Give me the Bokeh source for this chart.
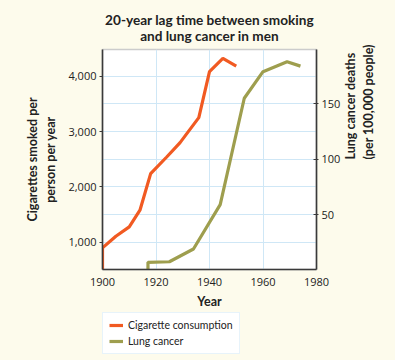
import math
from bokeh.plotting import figure
from bokeh.layouts import column
from bokeh.core.properties import value
from bokeh.models import (LinearAxis, Range1d, FixedTicker, NumeralTickFormatter,
                          Legend, LegendItem)
from bokeh.embed import file_html
from bokeh.resources import INLINE

# ---- data ----
cig_years = [1900, 1900, 1905, 1910, 1914, 1918, 1924, 1929, 1936, 1940, 1945, 1950]
cig_values = [510, 900, 1110, 1280, 1580, 2240, 2540, 2800, 3250, 4080, 4320, 4180]
lung_years = [1917, 1917, 1925, 1934, 1944, 1953, 1960, 1969, 1974]
lung_values = [0.5, 7, 7.5, 19, 59, 155, 179, 188, 184]
x_ticks = [1900, 1920, 1940, 1960, 1980]
left_ticks = [1000, 2000, 3000, 4000]
right_ticks = [50, 100, 150]
title_lines = ["20-year lag time between smoking", "and lung cancer in men"]
series_names = ["Cigarette consumption", "Lung cancer"]
series_colors = ["#F15A22", "#9E9E4E"]

FONT = "Open Sans"
BFONT = "Lato"
BG = "#FDFBEC"
GRID = "#CFE7F6"
AX = "#3a3a3a"
TXT = "#222222"

# ---- header with the two-line title ----
hd = figure(width=395, height=44, title=None, output_backend="svg", toolbar_location=None,
            x_axis_type=None, y_axis_type=None, x_range=Range1d(0, 1), y_range=Range1d(44, 0),
            min_border=0, background_fill_color=BG, border_fill_color=BG,
            outline_line_color=None)
hd.text(x=[0.5, 0.5], y=[19, 35], text=title_lines, text_align="center",
        text_baseline="middle", text_font=value(BFONT), text_font_size="13.6px",
        text_font_style="bold", text_color=TXT)

# ---- main chart ----
p = figure(width=395, height=268, title=None, output_backend="svg", toolbar_location=None,
           x_range=Range1d(1900, 1980), y_range=Range1d(510, 4480),
           min_border_left=102, min_border_right=75, min_border_top=5, min_border_bottom=43,
           background_fill_color="white", border_fill_color=BG,
           outline_line_color="#CCCCCC", outline_line_width=1.5)

p.extra_y_ranges = {"right": Range1d(0.5, 199)}

p.xgrid.ticker = FixedTicker(ticks=[1920, 1940, 1960])
p.ygrid.ticker = FixedTicker(ticks=[1000, 1500, 2000, 2500, 3000, 3500, 4000])
p.xgrid.grid_line_color = GRID
p.ygrid.grid_line_color = GRID
p.xgrid.grid_line_width = 1
p.ygrid.grid_line_width = 1

p.line(cig_years, cig_values, line_color=series_colors[0], line_width=3.2)
p.line(lung_years, lung_values, line_color=series_colors[1], line_width=3.2, y_range_name="right")

def style(ax):
    ax.axis_line_color = AX
    ax.axis_line_width = 1.6
    ax.major_tick_line_color = AX
    ax.minor_tick_line_color = None
    ax.major_label_text_font = FONT
    ax.major_label_text_font_size = "11px"
    ax.major_label_text_color = TXT
    ax.axis_label_text_font = BFONT
    ax.axis_label_text_font_size = "12.5px"
    ax.axis_label_text_font_style = "bold"
    ax.axis_label_text_color = TXT

xa = p.xaxis[0]
style(xa)
xa.ticker = FixedTicker(ticks=x_ticks)
xa.major_tick_line_color = None
xa.axis_label = "Year"
xa.axis_label_standoff = 5
xa.major_label_standoff = 2

ya = p.yaxis[0]
style(ya)
ya.ticker = FixedTicker(ticks=left_ticks)
ya.formatter = NumeralTickFormatter(format="0,0")
ya.major_tick_out = 3
ya.major_tick_in = 0
ya.axis_label = "Cigarettes smoked per\nperson per year"
ya.axis_label_standoff = 7
ya.major_label_standoff = 3

ra = LinearAxis(y_range_name="right")
style(ra)
ra.ticker = FixedTicker(ticks=right_ticks)
ra.major_tick_out = 2
ra.major_tick_in = 3
ra.axis_label = "Lung cancer deaths\n(per 100,000 people)"
ra.axis_label_orientation = math.pi / 2
ra.axis_label_text_baseline = "bottom"
ra.axis_label_standoff = 16
ra.major_label_standoff = 3
p.add_layout(ra, "right")

# ---- legend panel below the chart ----
lg = figure(width=395, height=48, title=None, output_backend="svg", toolbar_location=None,
            x_axis_type=None, y_axis_type=None, x_range=Range1d(0, 1), y_range=Range1d(0, 1),
            min_border=0, background_fill_color=BG, border_fill_color=BG,
            outline_line_color=None)
nan = float("nan")
lr1 = lg.line([nan], [nan], line_color=series_colors[0], line_width=3.2)
lr2 = lg.line([nan], [nan], line_color=series_colors[1], line_width=3.2)
legend = Legend(items=[LegendItem(label=series_names[0], renderers=[lr1]),
                       LegendItem(label=series_names[1], renderers=[lr2])],
                location=(0, 6), orientation="vertical",
                label_text_font=BFONT, label_text_font_size="10.5px", label_text_color=TXT,
                glyph_width=14, glyph_height=10, label_height=12, label_standoff=5,
                spacing=4, padding=6, margin=0,
                border_line_color="#CFE7F6", border_line_width=1.5,
                background_fill_color="white", background_fill_alpha=1)
lg.add_layout(legend, "center")

layout = column(hd, p, lg, spacing=0)
html = file_html(layout, INLINE)
html = html.replace("<head>", "<head><style>body{background:%s;}</style>" % BG, 1)
open("out.html", "w").write(html)
